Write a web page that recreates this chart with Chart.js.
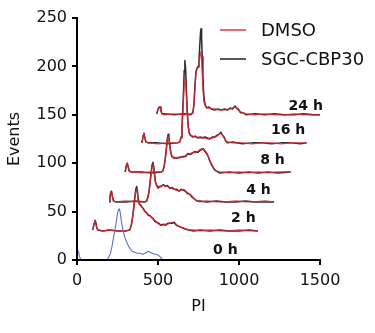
<!DOCTYPE html>
<html>
<head>
<meta charset="utf-8">
<script src="https://cdn.jsdelivr.net/npm/chart.js@4/dist/chart.umd.min.js"></script>
<style>
  html, body { margin: 0; padding: 0; background: #fff; }
  canvas { display: block; }
</style>
</head>
<body>
<canvas id="c" width="375" height="333"></canvas>
<script>
// ---- Data (PI value, event count) ----
const timeLabels = ['0 h', '2 h', '4 h', '8 h', '16 h', '24 h'];
const seriesNames = ['DMSO', 'SGC-CBP30'];
const xTicks = [0, 500, 1000, 1500];
const yTicks = [0, 50, 100, 150, 200, 250];

const trace0h = [[0,6],[3,9],[9,9],[15,4],[24,0],[180,0],[192,2],[205,6],[215,13],[223,21],[235,32],[244,41],[252,50],[260,53],[266,50],[274,40],[284,30],[296,23],[306,19],[316,15],[327,12],[340,9],[355,8],[370,7],[389,7],[405,6],[420,7],[432,8],[441,9],[452,8],[465,7],[478,6],[490,6],[502,5],[515,3],[525,1],[535,0]];

const dmso2h = [[95,31],[100,33],[106,38],[111,41],[116,39],[122,33],[130,31],[160,30],[200,31],[250,30],[300,30],[325,31],[335,35],[342,42],[350,52],[357,63],[363,71],[368,73],[373,69],[378,62],[384,58],[392,56],[400,55],[410,52],[420,50],[430,48],[440,47],[450,46],[460,44],[470,42],[480,41],[492,39],[505,37],[518,36],[533,36],[548,37],[560,37],[575,38],[590,39],[600,38],[612,37],[625,35],[640,34],[655,33],[670,32],[690,31],[720,31],[760,30],[820,31],[880,30],[940,30],[1000,31],[1060,30],[1117,30]];
const sgc2h  = [[95,31],[100,33],[106,38],[111,41],[116,39],[122,33],[130,31],[160,30],[200,31],[250,30],[300,30],[325,31],[335,36],[342,43],[350,54],[357,65],[363,73],[368,76],[373,71],[378,63],[384,58],[392,57],[400,55],[410,53],[420,50],[430,49],[440,46],[450,46],[460,44],[470,43],[480,40],[492,39],[505,38],[518,36],[533,37],[548,36],[560,38],[575,38],[590,38],[600,39],[612,36],[625,35],[640,34],[655,33],[670,32],[690,31],[720,30],[760,31],[820,30],[880,31],[940,30],[1000,30],[1060,31],[1117,30]];

const dmso4h = [[198,60],[203,64],[208,70],[213,71],[218,66],[225,61],[240,60],[300,61],[360,60],[420,60],[430,61],[438,64],[445,71],[452,80],[458,89],[464,97],[469,99],[474,95],[479,87],[485,80],[492,76],[500,74],[510,75],[520,77],[533,77],[545,76],[558,76],[572,75],[585,74],[600,73],[615,72],[630,72],[645,73],[655,73],[665,71],[680,70],[695,68],[710,66],[725,63],[740,61],[760,60],[800,61],[860,60],[920,60],[980,61],[1040,60],[1100,60],[1160,61],[1216,60]];
const sgc4h  = [[198,60],[203,64],[208,70],[213,71],[218,66],[225,61],[240,60],[300,60],[360,61],[420,60],[430,61],[438,65],[445,72],[452,82],[458,91],[464,99],[469,101],[474,96],[479,88],[485,80],[492,77],[500,75],[510,76],[520,76],[533,78],[545,76],[558,77],[572,74],[585,75],[600,73],[615,73],[630,71],[645,73],[655,72],[665,72],[680,69],[695,68],[710,65],[725,63],[740,61],[760,61],[800,60],[860,61],[920,60],[980,60],[1040,61],[1100,60],[1160,60],[1216,60]];

const dmso8h = [[296,91],[300,93],[305,98],[310,100],[315,97],[322,92],[335,91],[400,90],[460,91],[520,91],[530,92],[538,96],[545,104],[552,114],[558,124],[563,128],[567,126],[572,119],[578,112],[585,108],[592,106],[600,105],[612,106],[625,105],[640,107],[655,106],[670,108],[685,109],[700,110],[715,111],[730,111],[745,112],[758,114],[770,115],[780,114],[790,113],[800,111],[810,107],[820,103],[832,99],[845,95],[858,92],[880,91],[940,90],[1000,91],[1060,90],[1120,91],[1180,90],[1240,91],[1319,91]];
const sgc8h  = [[296,91],[300,93],[305,98],[310,100],[315,97],[322,92],[335,91],[400,91],[460,90],[520,91],[530,92],[538,97],[545,105],[552,116],[558,126],[563,130],[567,127],[572,120],[578,112],[585,107],[592,106],[600,106],[612,105],[625,106],[640,106],[655,107],[670,107],[685,110],[700,109],[715,111],[730,112],[745,111],[758,113],[770,114],[780,115],[790,112],[800,110],[810,107],[820,102],[832,98],[845,94],[858,92],[880,90],[940,91],[1000,90],[1060,91],[1120,90],[1180,91],[1240,90],[1319,91]];

const dmso16h = [[399,121],[404,124],[409,129],[413,131],[418,127],[425,122],[440,121],[500,120],[560,121],[620,121],[635,122],[642,126],[648,135],[653,150],[658,168],[662,182],[666,190],[670,186],[675,170],[680,152],[686,138],[692,131],[700,129],[715,128],[730,127],[745,127],[760,126],[775,127],[790,126],[805,125],[820,126],[835,126],[850,127],[865,128],[878,130],[888,131],[898,129],[908,126],[918,123],[930,122],[960,121],[1020,121],[1080,120],[1140,121],[1200,121],[1260,120],[1320,121],[1380,121],[1418,121]];
const sgc16h  = [[399,121],[404,124],[409,129],[413,131],[418,127],[425,122],[440,121],[500,121],[560,120],[620,121],[635,122],[642,127],[648,138],[653,156],[658,177],[662,196],[666,206],[670,199],[675,178],[680,156],[686,140],[692,132],[700,129],[715,127],[730,128],[745,126],[760,127],[775,126],[790,127],[805,126],[820,125],[835,127],[850,127],[865,129],[878,130],[888,132],[898,129],[908,127],[918,123],[930,121],[960,122],[1020,120],[1080,121],[1140,121],[1200,120],[1260,121],[1320,121],[1380,120],[1418,121]];

const dmso24h = [[492,151],[497,154],[503,157],[508,158],[513,158],[518,154],[525,151],[540,150],[600,151],[660,150],[700,151],[715,152],[722,160],[728,178],[734,193],[740,197],[747,199],[753,203],[758,210],[763,215],[767,212],[771,200],[775,186],[779,172],[784,163],[790,160],[800,158],[815,157],[830,156],[850,156],[870,155],[890,155],[910,155],[930,155],[945,156],[960,157],[975,158],[985,157],[995,155],[1010,153],[1025,152],[1045,151],[1100,150],[1160,151],[1220,150],[1280,150],[1340,151],[1400,150],[1460,150],[1505,150]];
const sgc24h  = [[492,151],[497,154],[503,157],[508,158],[513,158],[518,154],[525,151],[540,151],[600,150],[660,151],[700,150],[715,152],[722,161],[728,180],[734,194],[740,198],[747,200],[753,206],[758,222],[763,236],[766,239],[769,230],[773,210],[777,190],[781,175],[786,164],[792,160],[800,157],[815,158],[830,156],[850,155],[870,156],[890,155],[910,156],[930,155],[945,157],[960,156],[975,159],[985,157],[995,156],[1010,152],[1025,152],[1045,150],[1100,151],[1160,150],[1220,151],[1280,150],[1340,150],[1400,151],[1460,150],[1505,150]];

// annotation anchors for the time labels (data units)
const timeLabelX = [916, 1027, 1120, 1207, 1303, 1412];
const timeLabelY = [10, 43, 72, 103, 134, 159];

// ---- Styles ----
const RED = 'rgba(225,35,45,0.85)';
const BLACK = '#2b2b2b';
const BLUE = '#6070c8';
const FONT = '"DejaVu Sans", "Liberation Sans", Arial, sans-serif';

const toXY = a => a.map(p => ({x: p[0], y: p[1]}));
function ds(label, arr, color, width, order) {
  return { label, data: toXY(arr), borderColor: color, borderWidth: width, order,
           pointRadius: 0, tension: 0, fill: false, borderJoinStyle: 'round' };
}

const datasets = [
  ds('0 h', trace0h, BLUE, 1.1, 1),
  ds(seriesNames[1] + ' 2 h', sgc2h, BLACK, 1.5, 2),
  ds(seriesNames[0] + ' 2 h', dmso2h, RED, 1.3, 1),
  ds(seriesNames[1] + ' 4 h', sgc4h, BLACK, 1.5, 2),
  ds(seriesNames[0] + ' 4 h', dmso4h, RED, 1.3, 1),
  ds(seriesNames[1] + ' 8 h', sgc8h, BLACK, 1.5, 2),
  ds(seriesNames[0] + ' 8 h', dmso8h, RED, 1.3, 1),
  ds(seriesNames[1] + ' 16 h', sgc16h, BLACK, 1.5, 2),
  ds(seriesNames[0] + ' 16 h', dmso16h, RED, 1.3, 1),
  ds(seriesNames[1] + ' 24 h', sgc24h, BLACK, 1.5, 2),
  ds(seriesNames[0] + ' 24 h', dmso24h, RED, 1.3, 1)
];

const annotPlugin = {
  id: 'annot',
  afterDraw(chart) {
    const {ctx, chartArea, scales: {x, y}} = chart;
    ctx.save();
    // time labels
    ctx.fillStyle = '#111';
    ctx.font = 'bold 14px ' + FONT;
    ctx.textAlign = 'center';
    ctx.textBaseline = 'middle';
    timeLabels.forEach((t, i) => {
      ctx.fillText(t, x.getPixelForValue(timeLabelX[i]), y.getPixelForValue(timeLabelY[i]));
    });
    // legend
    const lx = chartArea.left + 143, ly = chartArea.top + 12;
    const colors = [RED, BLACK];
    ctx.font = '18px ' + FONT;
    ctx.textAlign = 'left';
    seriesNames.forEach((n, i) => {
      const yy = ly + i * 29;
      ctx.strokeStyle = colors[i];
      ctx.lineWidth = 1.6;
      ctx.beginPath(); ctx.moveTo(lx, yy); ctx.lineTo(lx + 26, yy); ctx.stroke();
      ctx.fillStyle = '#111';
      ctx.fillText(n, lx + 41, yy + 1);
    });
    ctx.restore();
  }
};

const axisCommon = {
  grid: { drawOnChartArea: false, drawTicks: true, tickLength: 5, color: '#000', lineWidth: 2 },
  border: { display: true, color: '#000', width: 2, z: 1 }
};

new Chart(document.getElementById('c'), {
  type: 'line',
  data: { datasets },
  options: {
    responsive: false,
    animation: false,
    layout: { padding: { left: 0, right: 55, top: 18, bottom: 0 } },
    plugins: { legend: { display: false }, tooltip: { enabled: false } },
    scales: {
      x: {
        type: 'linear', min: xTicks[0], max: xTicks[xTicks.length - 1],
        afterBuildTicks: s => { s.ticks = xTicks.map(v => ({value: v})); },
        ticks: { font: { family: FONT, size: 16 }, color: '#111', padding: 6, maxRotation: 0,
                 callback: v => String(v) },
        title: { display: true, text: 'PI', font: { family: FONT, size: 16 }, color: '#111', padding: { top: 0, bottom: 17 } },
        afterFit: s => { s.height = 73; },
        ...axisCommon
      },
      y: {
        type: 'linear', min: yTicks[0], max: yTicks[yTicks.length - 1],
        afterBuildTicks: s => { s.ticks = yTicks.map(v => ({value: v})); },
        ticks: { font: { family: FONT, size: 16 }, color: '#111', padding: 5,
                 callback: v => String(v) },
        title: { display: true, text: 'Events', font: { family: FONT, size: 16 }, color: '#111', padding: { top: 5, bottom: 0 } },
        afterFit: s => { s.width = 77; },
        ...axisCommon
      }
    }
  },
  plugins: [annotPlugin]
});
</script>
</body>
</html>
